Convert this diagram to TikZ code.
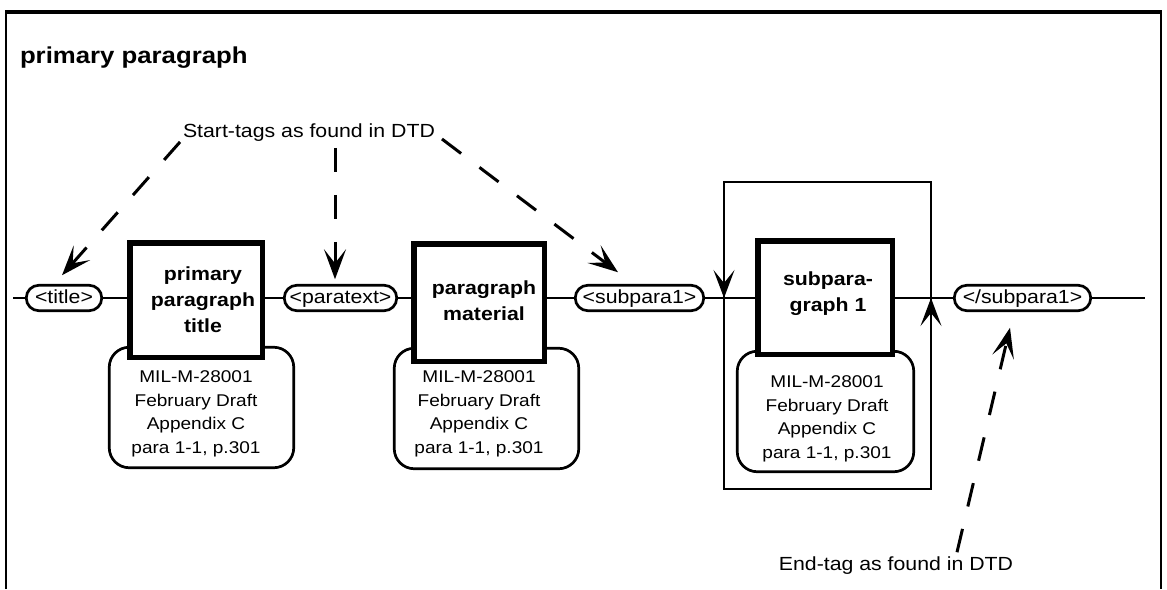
\documentclass[tikz,border=0pt]{standalone}
\usepackage{fontspec}
\setmainfont{Liberation Sans}[FakeStretch=1.12]
\usetikzlibrary{arrows.meta}
\tikzset{
  every node/.style={inner sep=0pt, outer sep=0pt},
  tagpill/.style={draw, line width=2.7pt, fill=white, rounded corners=12.7pt,
    minimum height=25.5pt, text height=14pt, text depth=4pt,
    font=\fontsize{19}{22}\selectfont},
  bigbox/.style={draw, line width=5.5pt, fill=white},
  refbox/.style={draw, line width=2.7pt, fill=white, rounded corners=20pt,
    minimum height=120.5pt},
  reftext/.style={align=center, font=\fontsize{17}{23.5}\selectfont},
  boxtext/.style={align=center, font=\bfseries\fontsize{19}{26}\selectfont},
  mainline/.style={line width=2.7pt},
  dasharrow/.style={line width=3pt, dash pattern=on 24pt off 23pt,
    -{Stealth[length=30pt,width=22pt,inset=14pt]}},
  looparrow/.style={line width=2pt, -{Stealth[length=28pt,width=21pt,inset=13pt]}},
  note/.style={font=\fontsize{19}{22}\selectfont},
  framestyle/.style={line width=2pt},
}
\begin{document}
\begin{tikzpicture}[x=1pt,y=-1pt]
\useasboundingbox (0,0) rectangle (1167,589);
% outer frame
\draw[framestyle] (6,589) -- (6,12) -- (1161,12) -- (1161,589);
\draw[line width=3.5pt] (5,12) -- (1162,12);
% heading
\node[anchor=base west, font=\bfseries\fontsize{23}{26}\selectfont] (heading) at (20,63) {primary paragraph};

% repetition loop
\node[draw, line width=2pt, minimum width=207pt, minimum height=307pt] (loop) at (827.5,335.5) {};

% reference boxes
\node[refbox, minimum width=184.5pt] (r1) at (201.5,407.5) {};
\node[refbox, minimum width=184.5pt] (r2) at (486.5,408.5) {};
\node[refbox, minimum width=176.5pt] (r3) at (825.5,411.5) {};
\node[reftext] (r1t) at (196,414) {MIL-M-28001\\February Draft\\Appendix C\\para 1-1, p.301};
\node[reftext] (r2t) at (479,414) {MIL-M-28001\\February Draft\\Appendix C\\para 1-1, p.301};
\node[reftext] (r3t) at (827,419) {MIL-M-28001\\February Draft\\Appendix C\\para 1-1, p.301};

% element boxes
\node[bigbox, minimum width=132.5pt, minimum height=114.5pt] (b1) at (196,300) {};
\node[bigbox, minimum width=130.5pt, minimum height=117.5pt] (b2) at (479,302.5) {};
\node[bigbox, minimum width=134.5pt, minimum height=113.5pt] (b3) at (825,297.5) {};
\node[boxtext] (b1t) at (203,300) {primary\\paragraph\\title};
\node[boxtext] (b2t) at (484,301) {paragraph\\material};
\node[boxtext] (b3t) at (828,293.5) {subpara-\\graph 1};

% tags
\node[tagpill, minimum width=75.5pt] (t1) at (64,298) {<title>};
\node[tagpill, minimum width=112.5pt] (t2) at (340.5,298) {<paratext>};
\node[tagpill, minimum width=128.5pt] (t3) at (639.5,298) {<subpara1>};
\node[tagpill, minimum width=136.5pt] (t4) at (1022.5,298) {</subpara1>};

% main line
\coordinate (lstart) at (13,298);
\coordinate (lend) at (1145,298);
\draw[mainline] (lstart) -- (t1.west);
\draw[mainline] (t1.east) -- (t1.east -| b1.west);
\draw[mainline] (t2.west -| b1.east) -- (t2.west);
\draw[mainline] (t2.east) -- (t2.east -| b2.west);
\draw[mainline] (t3.west -| b2.east) -- (t3.west);
\draw[mainline] (t3.east) -- (t3.east -| b3.west);
\draw[mainline] (t4.west -| b3.east) -- (t4.west);
\draw[mainline] (t4.east) -- (lend);

% loop arrowheads
\draw[looparrow] (loop.north west) -- (loop.west |- lend);
\draw[looparrow] (loop.south east) -- (loop.east |- lend);

% annotations
\node[note, anchor=base] (st) at (309,137) {Start-tags as found in DTD};
\node[note, anchor=base] (et) at (896,570) {End-tag as found in DTD};
\draw[dasharrow] ([xshift=-3pt,yshift=-1pt]st.south west) -- ([xshift=-2pt,yshift=10pt]t1.north);
\draw[dasharrow] ([xshift=26pt,yshift=-7pt]st.south) -- ([xshift=-5.5pt,yshift=6pt]t2.north);
\draw[dasharrow] ([xshift=7pt,yshift=-2pt]st.base east) -- ([xshift=-21.5pt,yshift=13pt]t3.north);
\draw[dasharrow] ([xshift=61pt,yshift=4pt]et.north) -- ([xshift=-12.5pt,yshift=-17pt]t4.south);
\end{tikzpicture}
\end{document}
